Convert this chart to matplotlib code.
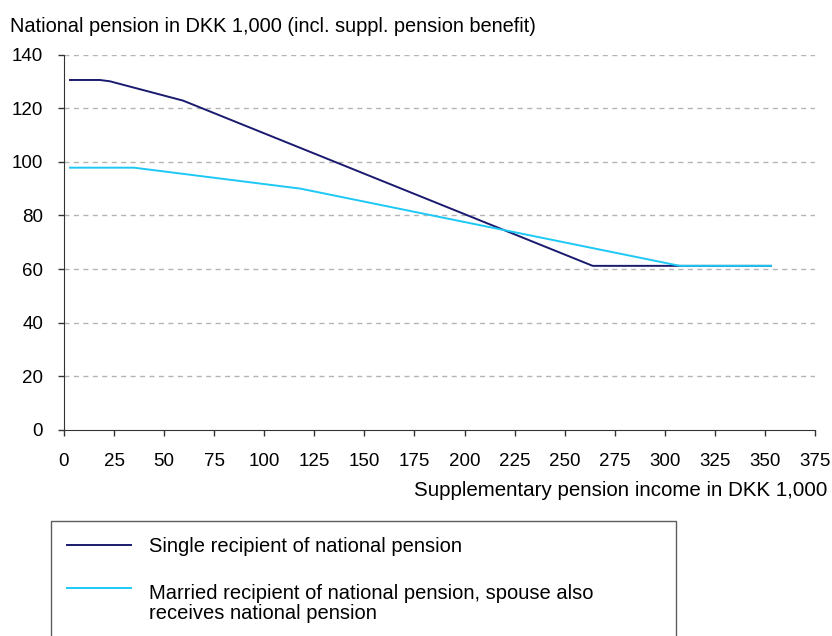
import numpy as np
import matplotlib.pyplot as plt

plt.rcParams['font.family'] = ['Liberation Sans', 'DejaVu Sans']

# supplementary pension income (DKK 1,000) and national pension (DKK 1,000)
single_x = [3, 18, 23, 59.5, 264, 353]
single_y = [130.5, 130.5, 130.0, 122.8, 61.2, 61.2]
married_x = [3, 35, 118, 307.5, 353]
married_y = [97.8, 97.8, 90.0, 61.2, 61.2]
x_ticks = list(range(0, 376, 25))
y_ticks = list(range(0, 141, 20))

fig = plt.figure(figsize=(8.32, 6.36), dpi=100)
ax = fig.add_axes([0.0769, 0.3239, 0.9027, 0.5904])

l1, = ax.plot(single_x, single_y, color='#1a1a6e', lw=1.4)
l2, = ax.plot(married_x, married_y, color='#1ec8f5', lw=1.4)

ax.set_xlim(0, 375)
ax.set_ylim(0, 140)
ax.set_xticks(x_ticks)
ax.set_yticks(y_ticks)
ax.tick_params(labelsize=13.5, length=4, width=1, direction='out', color='#333333')
ax.tick_params(axis='x', pad=12.5)
ax.tick_params(axis='y', pad=11)
for y in y_ticks[1:]:
    ax.axhline(y, color='#b4b4b4', lw=1, ls=(0, (3.6, 3.2)), zorder=0)
ax.spines['top'].set_visible(False)
ax.spines['right'].set_visible(False)
ax.spines['left'].set_color('#333333')
ax.spines['bottom'].set_color('#333333')

fig.text(0.012, 0.958, 'National pension in DKK 1,000 (incl. suppl. pension benefit)',
         fontsize=14.4, va='center', ha='left')
fig.text(0.995, 0.229, 'Supplementary pension income in DKK 1,000',
         fontsize=14.8, va='center', ha='right')

leg = fig.legend([l1, l2],
                 ['Single recipient of national pension',
                  'Married recipient of national pension, spouse also\nreceives national pension'],
                 loc='upper left', bbox_to_anchor=(0.0607, 0.1797, 0.7518, 0.001),
                 mode='expand', fontsize=14.5, frameon=True, fancybox=False,
                 handlelength=3.2, handletextpad=0.9, labelspacing=1.4,
                 borderpad=0.8, borderaxespad=0)
for t in leg.get_texts():
    t.set_linespacing(1.05)
# in the reference the line of the two-line entry sits level with its first line
h2 = leg.legend_handles[1]
h2.set_ydata(np.asarray(h2.get_ydata()) + 11.5)
leg.get_frame().set_edgecolor('#333333')
leg.get_frame().set_linewidth(1)

fig.savefig('out.png', dpi=100)
